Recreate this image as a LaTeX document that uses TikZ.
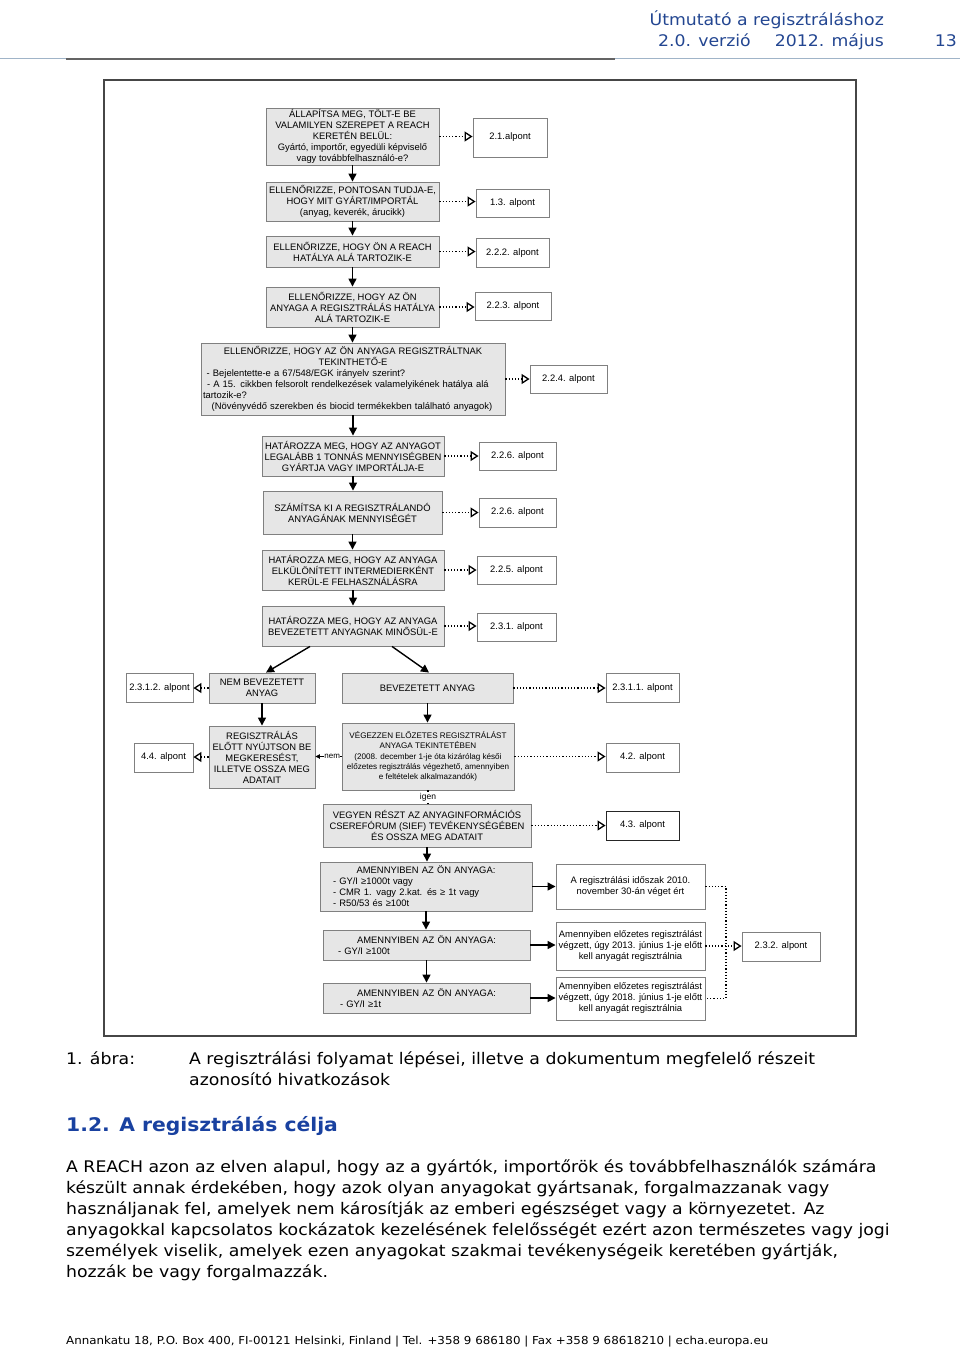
\documentclass[tikz,border=0pt]{standalone}
\usepackage{fontspec}
\setmainfont{Liberation Sans}
\newfontfamily\pf[FakeStretch=1.08]{DejaVu Sans}
\usetikzlibrary{arrows.meta}
\definecolor{boxfill}{RGB}{230,230,230}
\definecolor{boxline}{RGB}{128,128,128}
\definecolor{frameline}{RGB}{70,70,70}
\definecolor{hblue}{RGB}{35,70,145}
\definecolor{headblue}{RGB}{25,65,160}
\definecolor{rulelight}{RGB}{160,180,200}
\definecolor{ruledark}{RGB}{100,100,100}
\tikzset{
 sz/.style 2 args={minimum width=#1pt, minimum height=#2pt},
 gbox/.style={draw=boxline, fill=boxfill, line width=0.9pt, inner sep=0pt, font=\fontsize{9.4}{11}\selectfont},
 rbox/.style={draw=boxline, fill=white, line width=0.9pt, inner sep=0pt, align=center, font=\fontsize{9.4}{11}\selectfont},
 flow/.style={line width=1.4pt, -{Triangle[length=8pt,width=8pt]}},
 refarrow/.style={line width=1.2pt, dash pattern=on 1.2pt off 2pt, -{Triangle[open,length=8pt,width=10pt,line width=1.3pt]}},
 dotline/.style={line width=1.2pt, dash pattern=on 1.2pt off 2pt},
 ptext/.style={inner sep=0pt, font=\pf\fontsize{16}{21}\selectfont, anchor=base west},
 htext/.style={inner sep=0pt, font=\pf\fontsize{16}{20}\selectfont, text=hblue},
}
\begin{document}
\begin{tikzpicture}[x=1pt,y=-1pt]
\useasboundingbox (0,0) rectangle (960,1347);
% header
\node[htext, anchor=base east] (h1) at (884,25) {Útmutató a regisztráláshoz};
\node[htext, anchor=base east] (h2) at (751,46) {2.0. verzió};
\node[htext, anchor=base east] (h3) at (884,46) {2012. május};
\node[htext, anchor=base east] (h4) at (957,46) {13};
\draw[rulelight, line width=1pt] (0,58) -- (960,58);
\draw[ruledark, line width=2pt] (66,58.5) -- (615,58.5);
% frame
\draw[frameline, line width=1.4pt] (104,80) rectangle (856,1036);
% main boxes
\node[gbox, align=center, sz={173}{57}] (b1) at (352.5,136.5) {ÁLLAPÍTSA MEG, TÖLT-E BE\\VALAMILYEN SZEREPET A REACH\\KERETÉN BELÜL:\\Gyártó, importőr, egyedüli képviselő\\vagy továbbfelhasználó-e?};
\node[gbox, align=center, sz={173}{39}] (b2) at (352.5,201.5) {ELLENŐRIZZE, PONTOSAN TUDJA-E,\\HOGY MIT GYÁRT/IMPORTÁL\\(anyag, keverék, árucikk)};
\node[gbox, align=center, sz={173}{31}] (b3) at (352.5,251.5) {ELLENŐRIZZE, HOGY ÖN A REACH\\HATÁLYA ALÁ TARTOZIK-E};
\node[gbox, align=center, sz={173}{40}] (b4) at (352.5,307) {ELLENŐRIZZE, HOGY AZ ÖN\\ANYAGA A REGISZTRÁLÁS HATÁLYA\\ALÁ TARTOZIK-E};
\node[gbox, sz={304}{72}, text width=300pt, inner xsep=2pt] (b5) at (353,379) {\centering ELLENŐRIZZE, HOGY AZ ÖN ANYAGA REGISZTRÁLTNAK\\TEKINTHETŐ-E\par\raggedright\hspace*{3.7pt}- Bejelentette-e a 67/548/EGK irányelv szerint?\\\hspace*{4pt}- A 15. cikkben felsorolt rendelkezések valamelyikének hatálya alá\\tartozik-e?\\\hspace*{8.7pt}(Növényvédő szerekben és biocid termékekben található anyagok)\par};
\node[gbox, align=center, sz={182}{40}] (b6) at (353,456) {HATÁROZZA MEG, HOGY AZ ANYAGOT\\LEGALÁBB 1 TONNÁS MENNYISÉGBEN\\GYÁRTJA VAGY IMPORTÁLJA-E};
\node[gbox, align=center, sz={179}{43}] (b7) at (352.5,512.5) {SZÁMÍTSA KI A REGISZTRÁLANDÓ\\ANYAGÁNAK MENNYISÉGÉT};
\node[gbox, align=center, sz={182}{40}] (b8) at (353,570) {HATÁROZZA MEG, HOGY AZ ANYAGA\\ELKÜLÖNÍTETT INTERMEDIERKÉNT\\KERÜL-E FELHASZNÁLÁSRA};
\node[gbox, align=center, sz={182}{40}] (b9) at (353,626) {HATÁROZZA MEG, HOGY AZ ANYAGA\\BEVEZETETT ANYAGNAK MINŐSÜL-E};
% reference boxes
\node[rbox, sz={74}{39}] (r1) at (510,137.5) {2.1.alpont};
\node[rbox, sz={73}{28}] (r2) at (512.5,203) {1.3. alpont};
\node[rbox, sz={73}{29}] (r3) at (512.5,253) {2.2.2. alpont};
\node[rbox, sz={76}{28}] (r4) at (513,306.5) {2.2.3. alpont};
\node[rbox, sz={77}{28}] (r5) at (568.5,379) {2.2.4. alpont};
\node[rbox, sz={77}{28}] (r6) at (517.5,456) {2.2.6. alpont};
\node[rbox, sz={77}{29}] (r7) at (517.5,512.5) {2.2.6. alpont};
\node[rbox, sz={79}{28}] (r8) at (516.5,570) {2.2.5. alpont};
\node[rbox, sz={79}{28}] (r9) at (516.5,627) {2.3.1. alpont};
% lower boxes
\node[gbox, align=center, sz={106}{30}] (nem) at (262,688) {NEM BEVEZETETT\\ANYAG};
\node[gbox, align=center, sz={171}{30}] (bev) at (427.5,688) {BEVEZETETT ANYAG};
\node[rbox, sz={67}{29}] (r2312) at (159.5,688) {2.3.1.2. alpont};
\node[rbox, sz={73}{29}] (r2311) at (642.5,688) {2.3.1.1. alpont};
\node[gbox, align=center, sz={106}{62}] (reg) at (262,757) {REGISZTRÁLÁS\\ELŐTT NYÚJTSON BE\\MEGKERESÉST,\\ILLETVE OSSZA MEG\\ADATAIT};
\node[gbox, align=center, sz={172}{67}, font=\fontsize{8.1}{10.3}\selectfont] (veg) at (428,756.5) {VÉGEZZEN ELŐZETES REGISZTRÁLÁST\\ANYAGA TEKINTETÉBEN\\(2008. december 1-je óta kizárólag késői\\előzetes regisztrálás végezhető, amennyiben\\e feltételek alkalmazandók)};
\node[rbox, sz={59}{29}] (r44) at (163.5,757.5) {4.4. alpont};
\node[rbox, sz={73}{29}] (r42) at (642.5,757.5) {4.2. alpont};
\node[gbox, align=center, sz={208}{43}] (vegyen) at (427,825.5) {VEGYEN RÉSZT AZ ANYAGINFORMÁCIÓS\\CSEREFÓRUM (SIEF) TEVÉKENYSÉGÉBEN\\ÉS OSSZA MEG ADATAIT};
\node[rbox, sz={73}{29}, draw=black!85] (r43) at (642.5,825.5) {4.3. alpont};
\node[gbox, sz={212}{49}, text width=186pt, inner xsep=13pt] (am1) at (426,886.5) {\centering AMENNYIBEN AZ ÖN ANYAGA:\par\raggedright - GY/I ≥1000t vagy\\- CMR 1. vagy 2.kat. és ≥ 1t vagy\\- R50/53 és ≥100t\par};
\node[gbox, sz={207}{30}, text width=177pt, inner xsep=15pt] (am2) at (426.5,945) {\centering AMENNYIBEN AZ ÖN ANYAGA:\par\raggedright - GY/I ≥100t\par};
\node[gbox, sz={207}{30}, text width=177pt, inner xsep=15pt] (am3) at (426.5,998) {\centering AMENNYIBEN AZ ÖN ANYAGA:\par\raggedright\hspace*{2pt}- GY/I ≥1t\par};
\node[rbox, sz={149}{45}] (t1) at (630.5,886.5) {A regisztrálási időszak 2010.\\november 30-án véget ért};
\node[rbox, sz={149}{48}] (t2) at (630.5,946) {Amennyiben előzetes regisztrálást\\végzett, úgy 2013. június 1-je előtt\\kell anyagát regisztrálnia};
\node[rbox, sz={149}{43}] (t3) at (630.5,998.5) {Amennyiben előzetes regisztrálást\\végzett, úgy 2018. június 1-je előtt\\kell anyagát regisztrálnia};
\node[rbox, sz={78}{29}] (r232) at (781,946.5) {2.3.2. alpont};
% vertical flow
\draw[flow] (b1.south) -- (b2.north);
\draw[flow] (b2.south) -- (b3.north);
\draw[flow] (b3.south) -- (b4.north);
\draw[flow] (b4.south) -- (b4.south |- b5.north);
\draw[flow] (b5.south) -- (b6.north);
\draw[flow] (b6.south) -- (b6.south |- b7.north);
\draw[flow] (b7.south) -- (b7.south |- b8.north);
\draw[flow] (b8.south) -- (b9.north);
\draw[flow] ([xshift=-43pt]b9.south) -- ([xshift=4pt]nem.north);
\draw[flow] ([xshift=39pt]b9.south) -- ([xshift=1.5pt]bev.north);
\draw[flow] (nem.south) -- (reg.north);
\draw[flow] (bev.south) -- (bev.south |- veg.north);
\draw[flow] (vegyen.south) -- (vegyen.south |- am1.north);
\draw[flow] (am1.south) -- (am1.south |- am2.north);
\draw[flow] (am2.south) -- (am3.north);
\draw[flow] (am1.east) -- (am1.east -| t1.west);
\draw[flow] (am2.east) -- (am2.east -| t2.west);
\draw[flow] (am3.east) -- (am3.east -| t3.west);
% reference arrows
\draw[refarrow] (b1.east) -- (b1.east -| r1.west);
\draw[refarrow] (b2.east) -- (b2.east -| r2.west);
\draw[refarrow] (b3.east) -- (b3.east -| r3.west);
\draw[refarrow] (b4.east) -- (b4.east -| r4.west);
\draw[refarrow] (b5.east) -- (b5.east -| r5.west);
\draw[refarrow] (b6.east) -- (b6.east -| r6.west);
\draw[refarrow] (b7.east) -- (b7.east -| r7.west);
\draw[refarrow] (b8.east) -- (b8.east -| r8.west);
\draw[refarrow] (b9.east) -- (b9.east -| r9.west);
\draw[refarrow] (nem.west) -- (nem.west -| r2312.east);
\draw[refarrow] (bev.east) -- (bev.east -| r2311.west);
\draw[refarrow] (reg.west) -- (reg.west -| r44.east);
\draw[refarrow] (veg.east) -- (veg.east -| r42.west);
\draw[refarrow] (vegyen.east) -- (vegyen.east -| r43.west);
\draw[line width=0.9pt, -{Triangle[length=4.5pt,width=4.5pt]}] (veg.west) -- node[pos=0.36, fill=white, inner sep=0.5pt, font=\fontsize{8}{9}\selectfont] (nemlbl) {nem} (veg.west -| reg.east);
\draw[dotline] (veg.south) -- node[fill=white, inner sep=0.8pt, font=\fontsize{8.5}{9}\selectfont] (igenlbl) {igen} (veg.south |- vegyen.north);
\coordinate (jt) at (726,886.5);
\coordinate (jb) at (726,998.5);
\draw[dotline] (t1.east) -- (jt) -- (jb) -- (t3.east);
\draw[refarrow] (t2.east) -- (t2.east -| r232.west);
% caption and text
\node[ptext] (cap0) at (66,1064) {1. ábra:};
\node[ptext] (cap1) at (189,1064) {A regisztrálási folyamat lépései, illetve a dokumentum megfelelő részeit};
\node[ptext] (cap2) at (189,1085) {azonosító hivatkozások};
\node[inner sep=0pt, anchor=base west, font=\pf\bfseries\fontsize{18.8}{24}\selectfont, text=headblue] (head) at (66,1131) {1.2. A regisztrálás célja};
\node[ptext] (p1) at (66,1172) {A REACH azon az elven alapul, hogy az a gyártók, importőrök és továbbfelhasználók számára};
\node[ptext] (p2) at (66,1193) {készült annak érdekében, hogy azok olyan anyagokat gyártsanak, forgalmazzanak vagy};
\node[ptext] (p3) at (66,1214) {használjanak fel, amelyek nem károsítják az emberi egészséget vagy a környezetet. Az};
\node[ptext] (p4) at (66,1235) {anyagokkal kapcsolatos kockázatok kezelésének felelősségét ezért azon természetes vagy jogi};
\node[ptext] (p5) at (66,1256) {személyek viselik, amelyek ezen anyagokat szakmai tevékenységeik keretében gyártják,};
\node[ptext] (p6) at (66,1277) {hozzák be vagy forgalmazzák.};
\node[inner sep=0pt, anchor=base west, font=\pf\fontsize{11}{13}\selectfont] (foot) at (66,1344) {Annankatu 18, P.O. Box 400, FI-00121 Helsinki, Finland | Tel. +358 9 686180 | Fax +358 9 68618210 | echa.europa.eu};
\end{tikzpicture}
\end{document}
